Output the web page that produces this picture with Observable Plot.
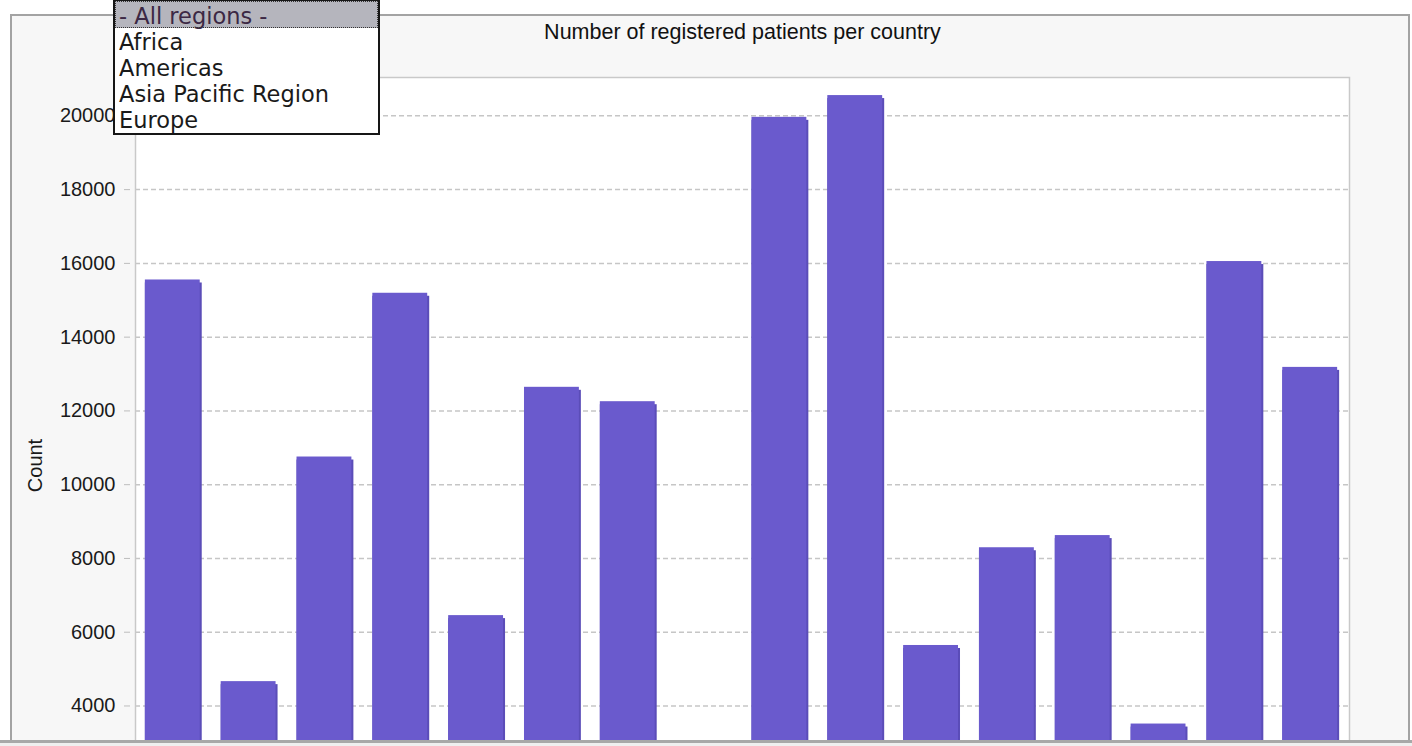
<!DOCTYPE html>
<html>
<head>
<meta charset="utf-8">
<script src="https://cdn.jsdelivr.net/npm/d3@7"></script>
<script src="https://cdn.jsdelivr.net/npm/@observablehq/plot@0.6"></script>
<style>
  html, body { margin: 0; padding: 0; background: #ffffff; width: 1412px; height: 746px; overflow: hidden; }
  body { position: relative; font-family: "Liberation Sans", Arial, sans-serif; }
  #panel { position: absolute; left: 10px; top: 14px; width: 1396px; height: 800px; border: 2px solid #a3a3a3; background: #f7f7f7; }
  #chart { position: absolute; left: 0; top: 0; }
  #title { position: absolute; left: 135px; width: 1215px; top: 20px; text-align: center; font-size: 21.5px; color: #111; white-space: nowrap; }
  #dropdown { position: absolute; left: 113px; top: 0; width: 263px; height: 132px; border: 2px solid #161616; border-top-width: 1px; background: #ffffff; font-family: "DejaVu Sans", Verdana, sans-serif; font-size: 22.5px; }
  #dropdown .opt { height: 26px; line-height: 24px; padding-top: 2px; padding-left: 4px; color: #1a1a1a; white-space: nowrap; box-sizing: border-box; }
  #dropdown .sel { height: 27px; background: #b5b5bd; color: #3c2844; outline: 1px dotted #333; outline-offset: -1px; padding-top: 3px; }
  #bottom { position: absolute; left: 0; top: 740px; width: 1412px; height: 3px; border-top: 3px solid #a8a8a8; background: #efefef; }
</style>
</head>
<body>
<div id="panel"></div>
<div id="chart"></div>
<div id="title">Number of registered patients per country</div>
<div id="dropdown">
  <div class="opt sel" id="opt0"></div>
  <div class="opt" id="opt1"></div>
  <div class="opt" id="opt2"></div>
  <div class="opt" id="opt3"></div>
  <div class="opt" id="opt4"></div>
</div>
<div id="bottom"></div>
<script>
// Region filter options (dropdown)
const regions = ["- All regions -", "Africa", "Americas", "Asia Pacific Region", "Europe"];

// Country categories (names are not visible in the cropped view)
const countries = ["Country 1", "Country 2", "Country 3", "Country 4", "Country 5", "Country 6", "Country 7", "Country 8",
                   "Country 9", "Country 10", "Country 11", "Country 12", "Country 13", "Country 14", "Country 15", "Country 16"];

// Registered patients per country (Country 8 is below the visible crop)
const patients = [15550, 4660, 10750, 15190, 6450, 12640, 12250, null,
                  19960, 20550, 5640, 8290, 8620, 3510, 16050, 13180];

// Y axis tick values (visible part of the axis)
const yTicks = [4000, 6000, 8000, 10000, 12000, 14000, 16000, 18000, 20000];

regions.forEach((r, i) => { document.getElementById("opt" + i).textContent = r; });

const data = countries.map((c, i) => ({country: c, count: patients[i]})).filter(d => d.count != null);

const chart = Plot.plot({
  width: 1412,
  height: 863,
  marginTop: 77,
  marginBottom: 10,
  marginLeft: 135,
  marginRight: 63,
  style: {background: "transparent", fontFamily: "'Liberation Sans', Arial, sans-serif", fontSize: "20px", color: "#1a1a1a", overflow: "visible"},
  x: {domain: countries, paddingInner: 0.25, paddingOuter: 0.13, round: false, axis: null},
  y: {domain: [0, 21040], axis: null},
  marks: [
    Plot.frame({fill: "#ffffff", stroke: null}),
    Plot.gridY(yTicks, {stroke: "#c6c6c6", strokeOpacity: 1, strokeWidth: 1.5, strokeDasharray: "5,3"}),
    Plot.barY(data, {x: "country", y: "count", fill: "#5b4db8", insetTop: 3}),
    Plot.barY(data, {x: "country", y: "count", fill: "#6a5acd", insetRight: 2}),
    Plot.frame({stroke: "#c9c9c9", strokeWidth: 1.5}),
    Plot.axisY(yTicks, {
      anchor: "left", tickSize: 6, dx: -5, tickPadding: 9, stroke: "#bdbdbd", fill: "#1a1a1a",
      tickFormat: d => String(d),
      label: "Count", labelAnchor: "center", labelArrow: "none", labelOffset: 108
    })
  ]
});
document.getElementById("chart").appendChild(chart);
</script>
</body>
</html>
